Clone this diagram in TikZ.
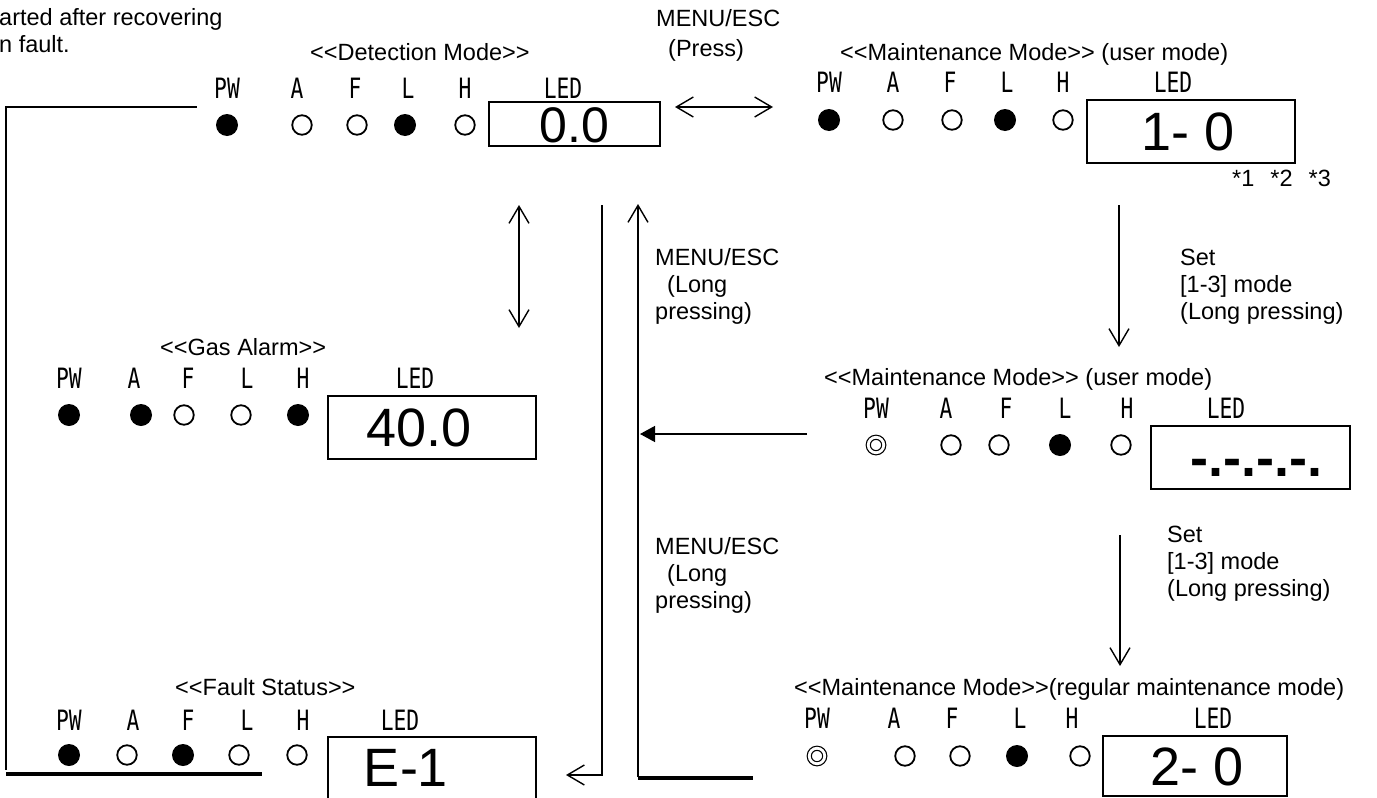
\documentclass[tikz,border=0pt]{standalone}
\usepackage{fontspec}
\setmainfont{Liberation Sans}
\newfontfamily\lampfont[FakeStretch=0.76]{DejaVu Sans Mono}
\usetikzlibrary{arrows.meta}
\begin{document}
\begin{tikzpicture}[x=1pt,y=-1pt,
 txt/.style={font=\fontsize{23.5}{27}\selectfont, inner sep=0pt, align=left},
 lamplbl/.style={font=\lampfont\fontsize{28}{28}\selectfont, inner sep=0pt, anchor=base},
 digits/.style={font=\fontsize{54}{54}\selectfont, inner sep=0pt},
 ledbox/.style={draw, line width=2pt, inner sep=0pt},
 lon/.style={circle, fill=black, minimum size=22pt, inner sep=0pt},
 loff/.style={circle, draw=black, line width=1.8pt, minimum size=19.5pt, inner sep=0pt},
 ldbl/.style={circle, draw=black, line width=1.2pt, double=white, double distance=2.8pt, minimum size=15.5pt, inner sep=0pt},
 conn/.style={line width=1.4pt},
 bar/.style={line width=3.5pt},
 >={Straight Barb[length=17pt,width=20pt]}
]
\fill[white] (0,0) rectangle (1377,798);
\useasboundingbox (0,0) rectangle (1377,798);

% note at top left
\node[txt, anchor=north west] (note) at (-1,8) {arted after recovering\\n fault.};

% ---------- Detection mode ----------
\node[txt, anchor=base west] (dtitle) at (310,60) {<{}<Detection Mode>{}>};
\foreach \n/\t/\x in {pw/PW/227, a/A/297, f/F/355, l/L/408, h/H/465, led/LED/563}
  \node[lamplbl] (dt\n) at (\x,98) {\t};
\node[lon]  (dpw) at (227,125) {};
\node[loff] (da)  at (302,125) {};
\node[loff] (df)  at (357,125) {};
\node[lon]  (dl)  at (405,125) {};
\node[loff] (dh)  at (465,125) {};
\node[ledbox, minimum width=171pt, minimum height=44pt] (dbox) at (574.5,124) {};
\node[digits, font=\fontsize{50}{50}\selectfont] (dval) at (574.5,125) {0.0};

% ---------- Maintenance mode (user mode), top ----------
\node[txt, anchor=base west] (mtitle) at (840,60) {<{}<Maintenance Mode>{}> (user mode)};
\foreach \n/\t/\x in {pw/PW/829, a/A/893, f/F/950, l/L/1007, h/H/1063, led/LED/1173}
  \node[lamplbl] (mt\n) at (\x,92) {\t};
\node[lon]  (mpw) at (829,120) {};
\node[loff] (ma)  at (893,120) {};
\node[loff] (mf)  at (952,120) {};
\node[lon]  (ml)  at (1005,120) {};
\node[loff] (mh)  at (1063,120) {};
\node[ledbox, minimum width=208pt, minimum height=63pt] (mbox) at (1191,131.5) {};
\node[digits] (mval) at (1188,131.5) {1- 0};
\node[txt, anchor=base west] (stars) at (1232,186) {*1\hspace{16pt}*2\hspace{16pt}*3};

% ---------- Gas alarm ----------
\node[txt, anchor=base west] (gtitle) at (160,355) {<{}<Gas Alarm>{}>};
\foreach \n/\t/\x in {pw/PW/69, a/A/134, f/F/188, l/L/247, h/H/303, led/LED/415}
  \node[lamplbl] (gt\n) at (\x,388) {\t};
\node[lon]  (gpw) at (69,415) {};
\node[lon]  (ga)  at (141,415) {};
\node[loff] (gf)  at (184,415) {};
\node[loff] (gl)  at (241,415) {};
\node[lon]  (gh)  at (298,415) {};
\node[ledbox, minimum width=208pt, minimum height=63pt] (gbox) at (432,427.5) {};
\node[digits] (gval) at (419,428) {40.0};

% ---------- Maintenance mode (user mode), middle ----------
\node[txt, anchor=base west] (utitle) at (824,385) {<{}<Maintenance Mode>{}> (user mode)};
\foreach \n/\t/\x in {pw/PW/876, a/A/946, f/F/1006, l/L/1065, h/H/1127, led/LED/1226}
  \node[lamplbl] (ut\n) at (\x,418) {\t};
\node[ldbl] (upw) at (876,445) {};
\node[loff] (ua)  at (951,445) {};
\node[loff] (uf)  at (999,445) {};
\node[lon]  (ul)  at (1060,445) {};
\node[loff] (uh)  at (1121,445) {};
\node[ledbox, minimum width=199pt, minimum height=63pt] (ubox) at (1250.5,457.5) {};
\node[digits, font=\bfseries\fontsize{54}{54}\selectfont, anchor=base west] (uval) at (1190,476.5) {-.-.-.-.};

% ---------- Fault status ----------
\node[txt, anchor=base west] (ftitle) at (175,695) {<{}<Fault Status>{}>};
\foreach \n/\t/\x in {pw/PW/69, a/A/133, f/F/188, l/L/247, h/H/303, led/LED/400}
  \node[lamplbl] (ft\n) at (\x,730) {\t};
\node[lon]  (fpw) at (69,755) {};
\node[loff] (fa)  at (127,755) {};
\node[lon]  (ff)  at (183,755) {};
\node[loff] (fl)  at (239,755) {};
\node[loff] (fh)  at (297,755) {};
\node[ledbox, minimum width=208pt, minimum height=63pt] (fbox) at (432,768.5) {};
\node[digits] (fval) at (406,768) {E-1};

% ---------- Maintenance mode (regular) ----------
\node[txt, anchor=base west] (rtitle) at (794,695) {<{}<Maintenance Mode>{}>(regular maintenance mode)};
\foreach \n/\t/\x in {pw/PW/817, a/A/894, f/F/952, l/L/1020, h/H/1072, led/LED/1213}
  \node[lamplbl] (rt\n) at (\x,728) {\t};
\node[ldbl] (rpw) at (817,756) {};
\node[loff] (ra)  at (905,756) {};
\node[loff] (rf)  at (960,756) {};
\node[lon]  (rl)  at (1017,756) {};
\node[loff] (rh)  at (1080,756) {};
\node[ledbox, minimum width=184pt, minimum height=60pt] (rbox) at (1195,766) {};
\node[digits] (rval) at (1197,767) {2- 0};

% ---------- labels ----------
\node[txt, anchor=north west] (menu1) at (656,9) {MENU/ESC\\[3pt]\hspace*{12pt}(Press)};
\node[txt, anchor=north west] (menu2) at (655,248) {MENU/ESC\\\hspace*{12pt}(Long\\pressing)};
\node[txt, anchor=north west] (set1) at (1180,249) {Set\\{[1-3]} mode\\(Long pressing)};
\node[txt, anchor=north west] (menu3) at (655,537) {MENU/ESC\\\hspace*{12pt}(Long\\pressing)};
\node[txt, anchor=north west] (set2) at (1167,526) {Set\\{[1-3]} mode\\(Long pressing)};

% ---------- connectors ----------
\coordinate (lb) at (6,770);
\coordinate (lt) at (6,107);
\coordinate (ltr) at (197,107);
\draw[line width=1.3pt] (lb) -- (lt) -- (ltr);
\coordinate (fb1) at (6,774);
\coordinate (fb2) at (262,774);
\draw[bar] (fb1) -- (fb2);

\coordinate (ha) at (675,107);
\coordinate (hb) at (773,107);
\draw[conn,<->] (ha) -- (hb);

\coordinate (va) at (519,205);
\coordinate (vb) at (519,328);
\draw[conn,<->] (va) -- (vb);

\coordinate (c1) at (602,205);
\coordinate (c2) at (566,775);
\draw[conn,->] (c1) |- (c2);

\coordinate (c3) at (638,777);
\coordinate (c4) at (638,204);
\draw[conn,->] (c3) -- (c4);
\coordinate (b1) at (638,778);
\coordinate (b2) at (753,778);
\draw[bar] (b1) -- (b2);

\coordinate (fa1) at (807,434);
\coordinate (fa2) at (640,434);
\draw[conn,-{Triangle[length=15pt,width=16pt]}] (fa1) -- (fa2);

\coordinate (d1) at (1119,205);
\coordinate (d2) at (1119,347);
\draw[conn,->] (d1) -- (d2);
\coordinate (d3) at (1120,535);
\coordinate (d4) at (1120,666);
\draw[conn,->] (d3) -- (d4);
\end{tikzpicture}
\end{document}
